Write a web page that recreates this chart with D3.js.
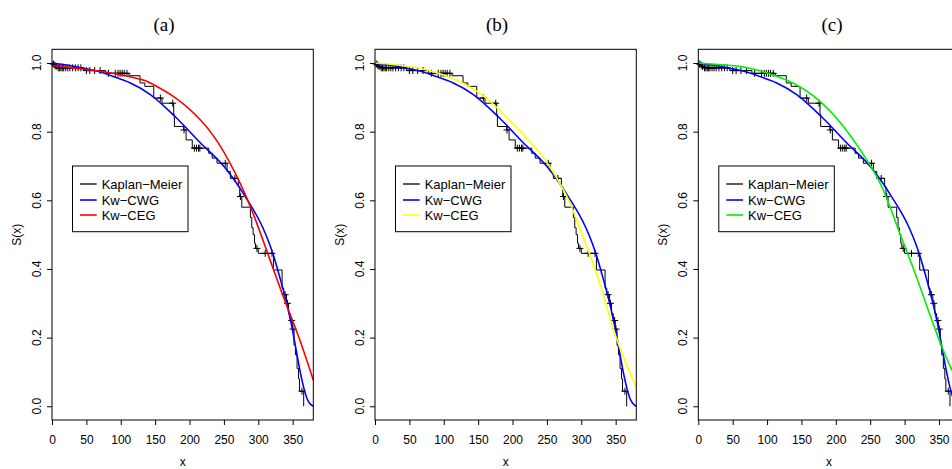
<!DOCTYPE html>
<html>
<head>
<meta charset="utf-8">
<script src="https://cdn.jsdelivr.net/npm/d3@7"></script>
<style>
  body { margin: 0; background: #fff; }
  svg { display: block; }
  text { font-family: "Liberation Sans", Arial, sans-serif; }
</style>
</head>
<body>
<svg id="chart" width="952" height="469"></svg>
<script>
// Kaplan-Meier steps (time of event, survival after it)
const kmTimes = [1, 3, 5, 8, 46, 78, 112, 128, 135, 148, 160, 177, 178, 191.5, 195, 204, 228, 233, 240, 254.6, 259.4, 271, 273, 276, 288.5, 290.5, 292.5, 294.5, 296, 300, 322, 334.6, 337, 341, 344, 346.5, 349.5, 352, 354, 356.4, 358.5, 360, 366];
const kmSurv  = [0.997, 0.994, 0.99, 0.986, 0.978, 0.97, 0.963, 0.942, 0.932, 0.898, 0.883, 0.85, 0.815, 0.805, 0.776, 0.752, 0.737, 0.723, 0.708, 0.684, 0.664, 0.64, 0.611, 0.58, 0.55, 0.52, 0.5, 0.475, 0.46, 0.4456, 0.397, 0.344, 0.325, 0.30, 0.27, 0.25, 0.225, 0.178, 0.15, 0.11, 0.08, 0.044, 0];
// censored times
const censTimes = [2, 4, 6, 9, 11, 13, 15, 17, 20, 23, 26, 30, 34, 38, 42, 50, 55, 62, 70, 82, 92, 96, 99, 102, 105, 109, 157.6, 175.6, 192, 207, 210, 213, 215, 252, 266, 274, 298, 310, 320, 339, 342.5, 348.5, 350.5, 363.5];

// Kw-CWG fitted survival (same in every panel)
const cwgX = [0, 25, 50, 70, 100, 114, 143, 180, 216, 252, 281, 306, 315, 322, 330, 340, 348, 355, 361, 366, 371, 375, 380];
const cwgS = [1.0, 0.993, 0.983, 0.974, 0.953, 0.942, 0.908, 0.842, 0.767, 0.694, 0.611, 0.523, 0.48, 0.44, 0.385, 0.31, 0.24, 0.165, 0.1, 0.055, 0.022, 0.008, 0.0];

// Kw-CEG fits, one per panel
const cegAX = [0, 30, 70, 100, 128, 143, 180, 216, 245, 274, 296, 320, 340, 360, 380];
const cegAS = [0.993, 0.986, 0.976, 0.966, 0.953, 0.942, 0.898, 0.834, 0.757, 0.648, 0.543, 0.41, 0.30, 0.195, 0.076];
const cegBX = [0, 50, 100, 150, 190, 225, 250, 270, 284, 296, 310, 325, 340, 350, 365, 380];
const cegBS = [1.0, 0.99, 0.965, 0.915, 0.845, 0.772, 0.71, 0.645, 0.59, 0.528, 0.455, 0.37, 0.27, 0.205, 0.125, 0.056];
const cegCX = [0, 40, 75, 133, 177, 211, 245, 269, 290, 313, 330, 348, 360, 369, 380];
const cegCS = [1.0, 0.994, 0.985, 0.946, 0.888, 0.815, 0.718, 0.63, 0.52, 0.4, 0.305, 0.205, 0.145, 0.105, 0.065];

const titles = ['(a)', '(b)', '(c)'];
const titleX = [164, 497, 832];
const cegColors = ['#ff0000', '#ffff00', '#00ee00'];
const cegSets = [[cegAX, cegAS], [cegBX, cegBS], [cegCX, cegCS]];
const panelLeft = [52, 375, 698.3];
const legendLabels = ['Kaplan\u2212Meier', 'Kw\u2212CWG', 'Kw\u2212CEG'];

const xTicks = [0, 50, 100, 150, 200, 250, 300, 350];
const yTicks = [0.0, 0.2, 0.4, 0.6, 0.8, 1.0];

const svg = d3.select('#chart');
const pw = 261.3, plotTop = 49.3, plotBottom = 420;

function stepS(t) {
  let s = 1;
  for (let i = 0; i < kmTimes.length; i++) if (kmTimes[i] <= t) s = kmSurv[i];
  return s;
}

panelLeft.forEach((left, p) => {
  const x = d3.scaleLinear().domain([0, 380]).range([left, left + pw]);
  const y = d3.scaleLinear().domain([-0.04, 1.04]).range([plotBottom, plotTop]);
  const g = svg.append('g');

  svg.append('text')
    .attr('x', titleX[p]).attr('y', 31)
    .attr('text-anchor', 'middle')
    .style('font-family', '"Liberation Serif", "DejaVu Serif", serif')
    .style('font-size', '19px')
    .text(titles[p]);

  // KM step path
  const pts = [[0, 1]];
  let prev = 1;
  kmTimes.forEach((t, i) => { pts.push([t, prev]); pts.push([t, kmSurv[i]]); prev = kmSurv[i]; });
  g.append('path')
    .attr('d', d3.line().x(d => x(d[0])).y(d => y(d[1]))(pts))
    .attr('fill', 'none').attr('stroke', '#000').attr('stroke-width', 1);

  // censor marks
  censTimes.forEach(t => {
    const cx = x(t), cy = y(stepS(t));
    g.append('path')
      .attr('d', `M${cx - 3.5},${cy}H${cx + 3.5}M${cx},${cy - 3.5}V${cy + 3.5}`)
      .attr('stroke', '#000').attr('stroke-width', 1);
  });

  const line = d3.line().x(d => x(d[0])).y(d => y(d[1]));
  g.append('path')
    .attr('d', line.curve(d3.curveMonotoneX)(cwgX.map((v, i) => [v, cwgS[i]])))
    .attr('fill', 'none').attr('stroke', '#0000ff').attr('stroke-width', 1.6);
  const [cx, cs] = cegSets[p];
  g.append('path')
    .attr('d', line.curve(d3.curveNatural)(cx.map((v, i) => [v, cs[i]])))
    .attr('fill', 'none').attr('stroke', cegColors[p]).attr('stroke-width', 1.6);

  // box
  svg.append('rect')
    .attr('x', left).attr('y', plotTop).attr('width', pw).attr('height', plotBottom - plotTop)
    .attr('fill', 'none').attr('stroke', '#000').attr('stroke-width', 1);

  // x axis
  const xa = svg.append('g').attr('transform', `translate(0,${plotBottom})`)
    .call(d3.axisBottom(x).tickValues(xTicks).tickSize(5).tickPadding(10).tickSizeOuter(0));
  xa.select('.domain').remove();
  xa.selectAll('text').style('font-size', '12px').style('font-family', '"Liberation Sans", Arial, sans-serif');

  // y axis
  const ya = svg.append('g').attr('transform', `translate(${left},0)`)
    .call(d3.axisLeft(y).tickValues(yTicks).tickSize(5).tickFormat(d3.format('.1f')));
  ya.select('.domain').remove();
  ya.selectAll('text').remove();
  yTicks.forEach(v => {
    svg.append('text')
      .attr('transform', `translate(${left - 11},${y(v)}) rotate(-90)`)
      .attr('text-anchor', 'middle')
      .style('font-size', '12px')
      .text(d3.format('.1f')(v));
  });

  svg.append('text')
    .attr('x', left + pw / 2).attr('y', 466)
    .attr('text-anchor', 'middle').style('font-size', '12px').text('x');
  svg.append('text')
    .attr('transform', `translate(${left - 31},${(plotTop + plotBottom) / 2}) rotate(-90)`)
    .attr('text-anchor', 'middle').style('font-size', '12px').text('S(x)');

  // legend
  const lg = svg.append('g').attr('transform', `translate(${left + 20.5},166)`);
  lg.append('rect').attr('width', 115.5).attr('height', 65.7)
    .attr('fill', '#fff').attr('stroke', '#000').attr('stroke-width', 1);
  const lc = ['#000', '#0000ff', cegColors[p]];
  [18, 34, 49].forEach((ry, i) => {
    lg.append('line').attr('x1', 7.5).attr('x2', 24.2).attr('y1', ry).attr('y2', ry)
      .attr('stroke', lc[i]).attr('stroke-width', i === 0 ? 1.3 : 1.6);
    lg.append('text').attr('x', 29.2).attr('y', ry + 4.5)
      .style('font-size', '13px').text(legendLabels[i]);
  });
});
</script>
</body>
</html>
